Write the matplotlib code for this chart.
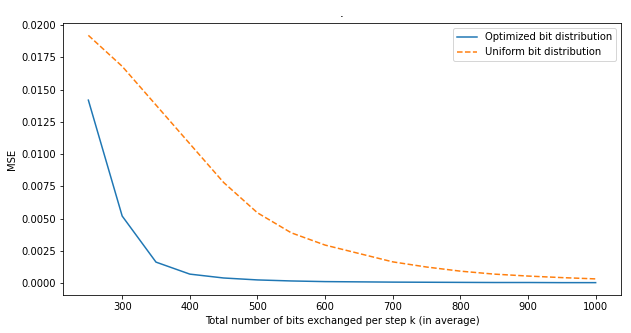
from matplotlib import pyplot as plt

bits = [250, 300, 350, 400, 450, 500, 550, 600, 650, 700, 750, 800, 850, 900, 950, 1000]
mse_optimized = [0.01418, 0.0052, 0.00163, 0.0007, 0.0004, 0.00025, 0.00017, 0.00012,
                 0.0001, 0.00008, 0.00007, 0.00006, 0.00005, 0.00005, 0.00004, 0.00004]
mse_uniform = [0.0192, 0.0168, 0.0138, 0.0108, 0.0078, 0.00545, 0.0039, 0.00295,
               0.0023, 0.00165, 0.00125, 0.00093, 0.0007, 0.00055, 0.00043, 0.00033]

fig = plt.figure(figsize=(631/72, 333/72), dpi=72)
ax = fig.add_axes([63/631, 1 - 295/333, (621 - 63)/631, (295 - 23)/333])
ax.plot(bits, mse_optimized, label="Optimized bit distribution")
ax.plot(bits, mse_uniform, "--", label="Uniform bit distribution")
ax.set_xlabel("Total number of bits exchanged per step k (in average)")
ax.set_ylabel("MSE")
ax.set_title(".")
ax.legend(loc="upper right")
fig.savefig("out.png", dpi=72)
